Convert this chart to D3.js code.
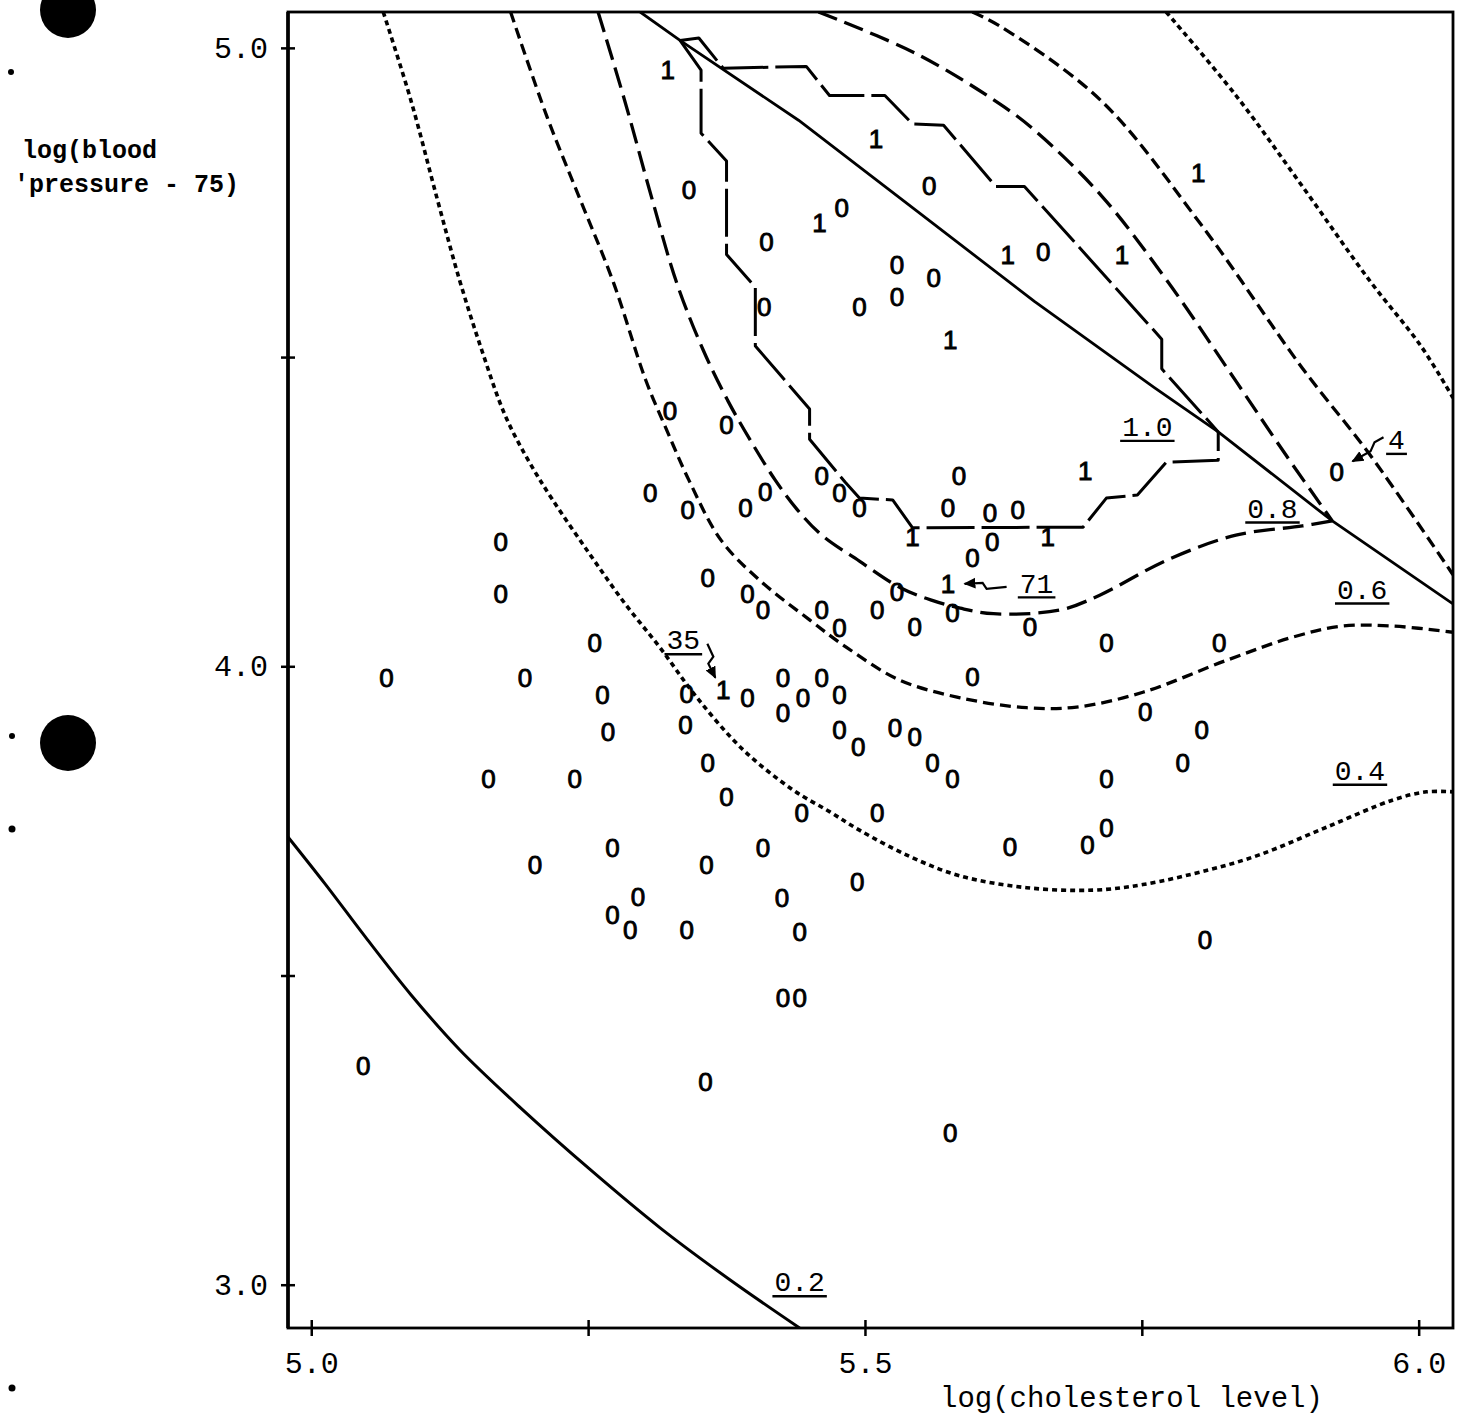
<!DOCTYPE html>
<html>
<head>
<meta charset="utf-8">
<script src="https://cdn.jsdelivr.net/npm/d3@7"></script>
<style>
  body { margin: 0; background: #fff; }
  svg { display: block; }
</style>
</head>
<body>
<div id="chart"></div>
<script>
// frame limits of the plot, data units
const xFrame = [4.979, 6.031];
const yFrame = [2.930, 5.058];
const xTicks = [5.0, 5.25, 5.5, 5.75, 6.0];
const xTickLabels = ["5.0", "", "5.5", "", "6.0"];
const yTicks = [5.0, 4.5, 4.0, 3.5, 3.0];
const yTickLabels = ["5.0", "", "4.0", "", "3.0"];

// [log(cholesterol), log(bp - 75), outcome]
const observations = [
  [5.322,4.964,"1"],[5.510,4.854,"1"],[5.341,4.770,"0"],[5.558,4.778,"0"],[5.801,4.799,"1"],
  [5.459,4.718,"1"],[5.479,4.741,"0"],[5.411,4.686,"0"],[5.629,4.666,"1"],[5.661,4.671,"0"],
  [5.732,4.666,"1"],[5.529,4.649,"0"],[5.562,4.628,"0"],[5.409,4.582,"0"],[5.495,4.582,"0"],
  [5.529,4.597,"0"],[5.577,4.529,"1"],[5.324,4.414,"0"],[5.375,4.390,"0"],[5.585,4.309,"0"],
  [5.699,4.316,"1"],[5.926,4.314,"0"],[5.306,4.280,"0"],[5.340,4.253,"0"],[5.392,4.256,"0"],
  [5.410,4.282,"0"],[5.461,4.309,"0"],[5.477,4.280,"0"],[5.495,4.256,"0"],[5.575,4.257,"0"],
  [5.613,4.249,"0"],[5.638,4.253,"0"],[5.543,4.209,"1"],[5.615,4.201,"0"],[5.665,4.209,"1"],
  [5.597,4.175,"0"],[5.171,4.201,"0"],[5.171,4.118,"0"],[5.358,4.144,"0"],[5.394,4.118,"0"],
  [5.408,4.091,"0"],[5.461,4.091,"0"],[5.477,4.062,"0"],[5.511,4.091,"0"],[5.529,4.120,"0"],
  [5.575,4.133,"1"],[5.579,4.086,"0"],[5.545,4.064,"0"],[5.649,4.064,"0"],[5.256,4.038,"0"],
  [5.718,4.038,"0"],[5.820,4.038,"0"],[5.597,3.983,"0"],[5.068,3.981,"0"],[5.193,3.981,"0"],
  [5.263,3.954,"0"],[5.339,3.955,"0"],[5.372,3.962,"1"],[5.394,3.950,"0"],[5.426,3.981,"0"],
  [5.444,3.950,"0"],[5.461,3.981,"0"],[5.477,3.954,"0"],[5.426,3.925,"0"],[5.268,3.894,"0"],
  [5.338,3.905,"0"],[5.753,3.926,"0"],[5.477,3.897,"0"],[5.494,3.870,"0"],[5.527,3.900,"0"],
  [5.545,3.886,"0"],[5.804,3.897,"0"],[5.787,3.845,"0"],[5.561,3.845,"0"],[5.579,3.819,"0"],
  [5.358,3.844,"0"],[5.160,3.819,"0"],[5.238,3.819,"0"],[5.718,3.819,"0"],[5.375,3.789,"0"],
  [5.443,3.763,"0"],[5.511,3.763,"0"],[5.718,3.739,"0"],[5.701,3.711,"0"],[5.631,3.708,"0"],
  [5.272,3.706,"0"],[5.408,3.706,"0"],[5.202,3.679,"0"],[5.357,3.679,"0"],[5.493,3.651,"0"],
  [5.295,3.627,"0"],[5.425,3.626,"0"],[5.272,3.598,"0"],[5.288,3.574,"0"],[5.339,3.574,"0"],
  [5.441,3.571,"0"],[5.807,3.558,"0"],[5.426,3.464,"0"],[5.441,3.464,"0"],[5.047,3.354,"0"],
  [5.356,3.328,"0"],[5.577,3.246,"0"]
];

// contour traces
const contour02 = [[4.979,3.724],[5.013,3.647],[5.049,3.562],[5.090,3.469],[5.134,3.380],
  [5.189,3.286],[5.252,3.186],[5.315,3.092],[5.378,3.008],[5.441,2.930]];
const contour04a = [[5.065,5.058],[5.090,4.915],[5.114,4.754],[5.134,4.624],[5.154,4.511],
  [5.175,4.406],[5.196,4.333],[5.218,4.269],[5.252,4.180],[5.283,4.102],[5.315,4.030],
  [5.348,3.950],[5.390,3.865],[5.435,3.800],[5.468,3.765],[5.495,3.735],[5.541,3.692],
  [5.586,3.661],[5.646,3.642],[5.706,3.638],[5.751,3.647],[5.811,3.671],[5.856,3.695],
  [5.917,3.740],[5.977,3.784],[6.007,3.797],[6.031,3.797]];
const contour04b = [[5.772,5.058],[5.835,4.923],[5.895,4.776],[5.956,4.623],[6.002,4.518],[6.031,4.434]];
const contour06a = [[5.180,5.058],[5.213,4.888],[5.243,4.754],[5.273,4.620],[5.302,4.463],
  [5.321,4.382],[5.341,4.301],[5.370,4.204],[5.405,4.139],[5.450,4.075],[5.483,4.031],
  [5.531,3.978],[5.586,3.949],[5.646,3.933],[5.691,3.934],[5.751,3.958],[5.827,4.010],
  [5.886,4.047],[5.931,4.065],[5.977,4.065],[6.031,4.055]];
const contour06b = [[5.597,5.058],[5.622,5.035],[5.713,4.915],[5.804,4.713],[5.895,4.482],[5.956,4.342],[6.031,4.148]];
const contour08a = [[5.259,5.058],[5.283,4.915],[5.308,4.754],[5.330,4.620],[5.354,4.511],
  [5.376,4.430],[5.398,4.361],[5.419,4.301],[5.439,4.253],[5.461,4.212],[5.495,4.170],
  [5.532,4.127],[5.560,4.107],[5.586,4.094],[5.616,4.085],[5.676,4.091],[5.712,4.115],
  [5.773,4.172],[5.835,4.212],[5.895,4.227],[5.922,4.235]];
const contour08b = [[5.458,5.058],[5.547,4.990],[5.622,4.909],[5.653,4.867],[5.713,4.762],
  [5.773,4.623],[5.835,4.461],[5.880,4.342],[5.922,4.235]];
const solidEdge = [[5.297,5.058],[5.333,5.012],[5.440,4.883],[5.547,4.736],[5.653,4.590],
  [5.761,4.451],[5.819,4.379],[5.922,4.235],[6.031,4.101]];
const stepUpper = [[5.333,5.012],[5.350,5.016],[5.372,4.967],[5.447,4.970],[5.468,4.923],
  [5.518,4.923],[5.543,4.877],[5.571,4.875],[5.618,4.776],[5.644,4.776],[5.768,4.529],
  [5.768,4.481],[5.819,4.379]];
const stepLower = [[5.333,5.012],[5.352,4.964],[5.352,4.862],[5.375,4.817],[5.375,4.666],
  [5.401,4.613],[5.401,4.518],[5.450,4.416],[5.450,4.367],[5.482,4.298],[5.495,4.272],
  [5.525,4.269],[5.543,4.224],[5.697,4.225],[5.718,4.272],[5.746,4.277],[5.772,4.330],
  [5.819,4.333],[5.819,4.379]];

const levelNames = ["1.0", "0.8", "0.6", "0.4", "0.2"];
const levelX = [5.755, 5.868, 5.949, 5.947, 5.441];
const levelY = [4.388, 4.256, 4.125, 3.832, 3.005];

const countNames = ["4", "71", "35"];
const countX = [5.980, 5.655, 5.336];
const countY = [4.367, 4.135, 4.043];

const W = 1465, H = 1415;
const mono = '"Liberation Mono", "DejaVu Sans Mono", monospace';
const plain = '"Liberation Sans", Arimo, sans-serif';

const x = d3.scaleLinear().domain(xFrame).range([288, 1453]);
const y = d3.scaleLinear().domain(yFrame).range([1328, 12]);

const svg = d3.select("#chart").append("svg")
  .attr("width", W).attr("height", H)
  .style("background", "#fff");

const defs = svg.append("defs");
defs.append("clipPath").attr("id", "frame")
  .append("rect")
  .attr("x", x(xFrame[0])).attr("y", y(yFrame[1]))
  .attr("width", x(xFrame[1]) - x(xFrame[0]))
  .attr("height", y(yFrame[0]) - y(yFrame[1]));

defs.append("marker")
  .attr("id", "head")
  .attr("viewBox", "0 -5 10 10")
  .attr("refX", 9).attr("refY", 0)
  .attr("markerUnits", "userSpaceOnUse")
  .attr("markerWidth", 12).attr("markerHeight", 12)
  .attr("orient", "auto")
  .append("path").attr("d", "M0,-4.5L10,0L0,4.5Z").attr("fill", "#000");

// punch holes from the scanned page
const holes = svg.append("g").attr("fill", "#000");
holes.append("circle").attr("cx", 68).attr("cy", 10).attr("r", 28);
holes.append("circle").attr("cx", 68).attr("cy", 743).attr("r", 28);
holes.append("circle").attr("cx", 11).attr("cy", 72).attr("r", 3);
holes.append("circle").attr("cx", 12).attr("cy", 736).attr("r", 3);
holes.append("circle").attr("cx", 12).attr("cy", 829).attr("r", 3.5);
holes.append("circle").attr("cx", 12).attr("cy", 1388).attr("r", 3.5);

// frame
svg.append("rect")
  .attr("x", x(xFrame[0])).attr("y", y(yFrame[1]))
  .attr("width", x(xFrame[1]) - x(xFrame[0]))
  .attr("height", y(yFrame[0]) - y(yFrame[1]))
  .attr("fill", "none").attr("stroke", "#000").attr("stroke-width", 2.8);
svg.append("line")
  .attr("x1", x(xFrame[0])).attr("x2", x(xFrame[0]))
  .attr("y1", y(yFrame[1])).attr("y2", y(yFrame[0]))
  .attr("stroke", "#000").attr("stroke-width", 3.6);

// axes with crossing ticks
svg.append("g")
  .attr("transform", `translate(${x(xFrame[0])},0)`)
  .call(d3.axisLeft(y).tickValues(yTicks)
    .tickFormat(d => yTickLabels[yTicks.indexOf(d)])
    .tickSize(7).tickPadding(13))
  .call(g => g.select(".domain").remove())
  .call(g => g.selectAll(".tick line").attr("x1", 7).attr("stroke", "#000").attr("stroke-width", 2.5))
  .call(g => g.selectAll(".tick text").attr("font-family", mono).attr("font-size", 30).attr("fill", "#000"));

svg.append("g")
  .attr("transform", `translate(0,${y(yFrame[0])})`)
  .call(d3.axisBottom(x).tickValues(xTicks)
    .tickFormat(d => xTickLabels[xTicks.indexOf(d)])
    .tickSize(8).tickPadding(16))
  .call(g => g.select(".domain").remove())
  .call(g => g.selectAll(".tick line").attr("y1", -8).attr("stroke", "#000").attr("stroke-width", 2.5))
  .call(g => g.selectAll(".tick text").attr("font-family", mono).attr("font-size", 30).attr("fill", "#000"));

// axis titles
svg.append("text")
  .attr("x", 940).attr("y", 1407)
  .attr("font-family", mono).attr("font-size", 29)
  .text("log(cholesterol level)");

const ytitle = svg.append("text")
  .attr("font-family", mono).attr("font-size", 25).attr("font-weight", "bold");
ytitle.append("tspan").attr("x", 22).attr("y", 158).text("log(blood");
ytitle.append("tspan").attr("x", 14).attr("y", 192).text("'pressure - 75)");

// contour lines
const smooth = d3.line().x(d => x(d[0])).y(d => y(d[1])).curve(d3.curveCatmullRom.alpha(0.5));
const straight = d3.line().x(d => x(d[0])).y(d => y(d[1]));

const traces = [
  { pts: contour02, line: smooth, dash: null, w: 3 },
  { pts: contour04a, line: smooth, dash: "5,4", w: 3.6 },
  { pts: contour04b, line: smooth, dash: "5,4", w: 3.6 },
  { pts: contour06a, line: smooth, dash: "11,6", w: 3.3 },
  { pts: contour06b, line: smooth, dash: "12,6", w: 3.3 },
  { pts: contour08a, line: smooth, dash: "21,8", w: 3.3 },
  { pts: contour08b, line: smooth, dash: "20,8", w: 3.3 },
  { pts: solidEdge, line: straight, dash: null, w: 2.8 },
  { pts: stepUpper, line: straight, dash: "48,7", w: 3 },
  { pts: stepLower, line: straight, dash: "48,7", w: 3 }
];

svg.append("g").attr("clip-path", "url(#frame)")
  .selectAll("path")
  .data(traces)
  .join("path")
  .attr("d", d => d.line(d.pts))
  .attr("fill", "none")
  .attr("stroke", "#000")
  .attr("stroke-width", d => d.w)
  .attr("stroke-dasharray", d => d.dash)
  .attr("stroke-linejoin", "round");

// observations
svg.append("g")
  .attr("font-family", plain).attr("font-size", 26)
  .attr("text-anchor", "middle")
  .attr("fill", "#000").attr("stroke", "#000").attr("stroke-width", 0.9)
  .selectAll("text")
  .data(observations)
  .join("text")
  .attr("x", d => x(d[0]))
  .attr("y", d => y(d[1]))
  .attr("dy", "0.36em")
  .text(d => d[2]);

// underlined labels
function underlined(g, txt, cx, cy, size) {
  const t = g.append("text")
    .attr("x", cx).attr("y", cy).attr("dy", "0.35em")
    .attr("text-anchor", "middle")
    .attr("font-family", mono).attr("font-size", size)
    .text(txt);
  const w = t.node().getComputedTextLength();
  g.append("line")
    .attr("x1", cx - w / 2 - 2).attr("x2", cx + w / 2 + 2)
    .attr("y1", cy + size * 0.52).attr("y2", cy + size * 0.52)
    .attr("stroke", "#000").attr("stroke-width", 2.4);
}

const labels = svg.append("g");
levelNames.forEach((n, i) => underlined(labels, n, x(levelX[i]), y(levelY[i]), 28));
countNames.forEach((n, i) => underlined(labels, n, x(countX[i]), y(countY[i]), 28));

// little arrows from the count notes to their points
const arrows = [
  [[-13, -2], [-22, 3], [-26, 12], [-44, 22]],
  [[-30, 4], [-50, 6], [-54, 0], [-72, 1]],
  [[24, 4], [30, 17], [25, 24], [32, 38]]
];
labels.selectAll(".arrow")
  .data(arrows)
  .join("path")
  .attr("class", "arrow")
  .attr("d", (d, i) => d3.line()(d.map(p => [x(countX[i]) + p[0], y(countY[i]) + p[1]])))
  .attr("fill", "none").attr("stroke", "#000").attr("stroke-width", 2.2)
  .attr("marker-end", "url(#head)");
</script>
</body>
</html>
